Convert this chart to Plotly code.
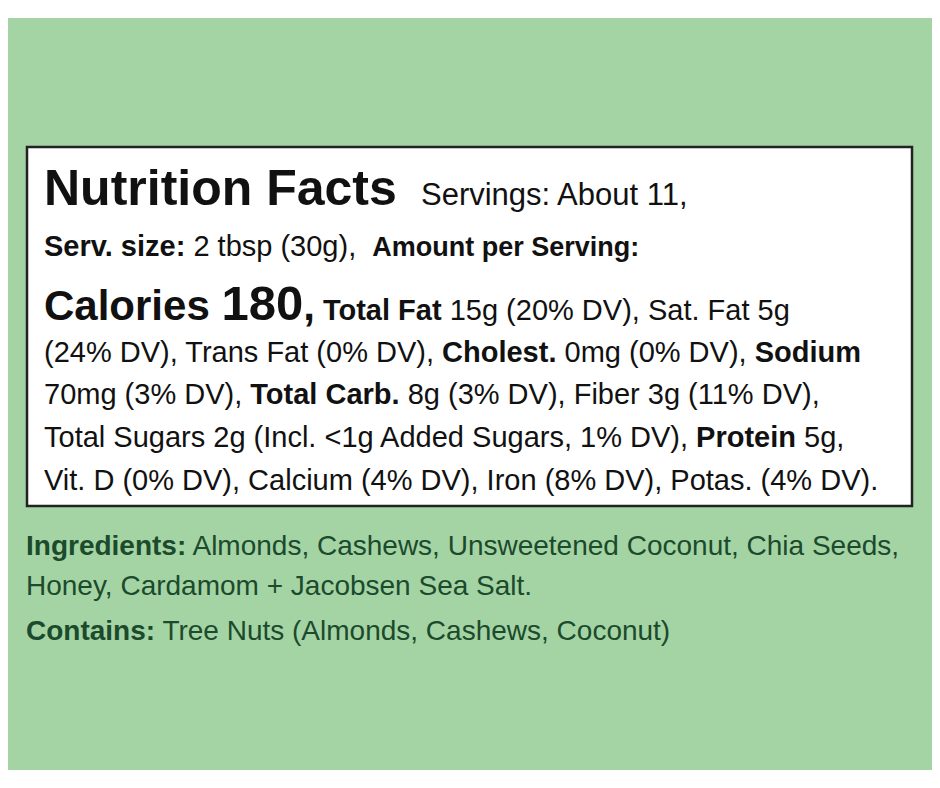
import plotly.graph_objects as go

FONT = "Liberation Sans, Arial, sans-serif"

# label text, one entry per printed line
label_lines = [
    "<b><span style='font-size:50px'>Nutrition Facts</span></b>   <span style='font-size:31px'>Servings: About 11,</span>",
    "<b>Serv. size:</b> 2 tbsp (30g),  <b><span style='font-size:27px'>Amount per Serving:</span></b>",
    "<b><span style='font-size:42px'>Calories <span style='font-size:49px'>180</span>,</span></b> <b>Total Fat</b> 15g (20% DV), Sat. Fat 5g",
    "(24% DV), Trans Fat (0% DV), <b>Cholest.</b> 0mg (0% DV), <b>Sodium</b>",
    "70mg (3% DV), <b>Total Carb.</b> 8g (3% DV), Fiber 3g (11% DV),",
    "Total Sugars 2g (Incl. <1g Added Sugars, 1% DV), <b>Protein</b> 5g,",
    "Vit. D (0% DV), Calcium (4% DV), Iron (8% DV), Potas. (4% DV).",
]
label_y = [188, 246, 303, 352, 394, 437, 480]

ingredient_lines = [
    "<b>Ingredients:</b> Almonds, Cashews, Unsweetened Coconut, Chia Seeds,",
    "Honey, Cardamom + Jacobsen Sea Salt.",
    "<b>Contains:</b> Tree Nuts (Almonds, Cashews, Coconut)",
]
ingredient_y = [545, 585, 630]

fig = go.Figure()

annotations = []
for txt, y in zip(label_lines, label_y):
    annotations.append(dict(x=42, y=y, xref="x", yref="y", text=txt, showarrow=False,
                            xanchor="left", yanchor="middle",
                            font=dict(family=FONT, size=29, color="#111111")))
for txt, y in zip(ingredient_lines, ingredient_y):
    annotations.append(dict(x=24, y=y, xref="x", yref="y", text=txt, showarrow=False,
                            xanchor="left", yanchor="middle",
                            font=dict(family=FONT, size=28, color="#1c4a2c")))

shapes = [
    dict(type="rect", x0=0, x1=960, y0=18, y1=770, fillcolor="#a4d4a4", line_width=0, layer="below"),
    dict(type="rect", x0=27, x1=912, y0=147, y1=506, fillcolor="white",
         line=dict(color="#222222", width=2.5), layer="below"),
]

# page has an 8px body margin, so shift the visible window to compensate
fig.update_layout(
    width=940, height=788, margin=dict(l=0, r=0, t=0, b=0),
    paper_bgcolor="white", plot_bgcolor="white",
    xaxis=dict(range=[8, 948], visible=False, fixedrange=True),
    yaxis=dict(range=[796, 8], visible=False, fixedrange=True),
    shapes=shapes, annotations=annotations, showlegend=False,
)

fig.write_html("out.html")
